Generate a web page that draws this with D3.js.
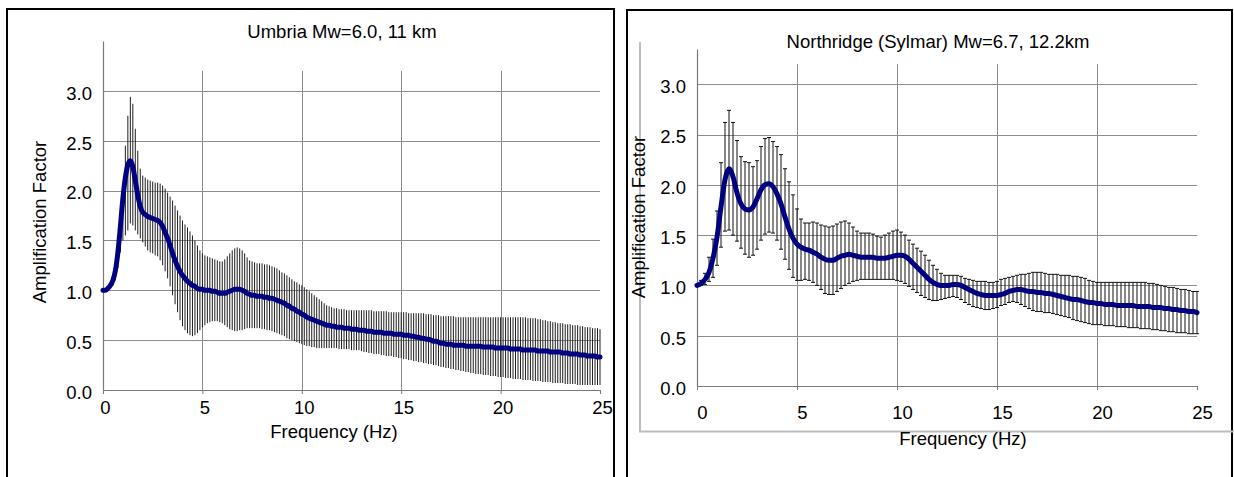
<!DOCTYPE html>
<html>
<head>
<meta charset="utf-8">
<script src="https://cdn.jsdelivr.net/npm/d3@7"></script>
<style>
  body { margin: 0; background: #fff; }
  svg text { font-family: "Liberation Sans", Arial, sans-serif; }
</style>
</head>
<body>
<script>
// tick values shared by both panels
var xTicks = [0, 5, 10, 15, 20, 25];
var yTicks = [0, 0.5, 1.0, 1.5, 2.0, 2.5, 3.0];

// Umbria Mw=6.0, 11 km  (bars every 0.125 Hz)
var umbriaFreq = [
  0,0.125,0.25,0.375,0.5,0.625,0.75,0.875,
  1,1.125,1.25,1.375,1.5,1.625,1.75,1.875,
  2,2.125,2.25,2.375,2.5,2.625,2.75,2.875,
  3,3.125,3.25,3.375,3.5,3.625,3.75,3.875,
  4,4.125,4.25,4.375,4.5,4.625,4.75,4.875,
  5,5.125,5.25,5.375,5.5,5.625,5.75,5.875,
  6,6.125,6.25,6.375,6.5,6.625,6.75,6.875,
  7,7.125,7.25,7.375,7.5,7.625,7.75,7.875,
  8,8.125,8.25,8.375,8.5,8.625,8.75,8.875,
  9,9.125,9.25,9.375,9.5,9.625,9.75,9.875,
  10,10.125,10.25,10.375,10.5,10.625,10.75,10.875,
  11,11.125,11.25,11.375,11.5,11.625,11.75,11.875,
  12,12.125,12.25,12.375,12.5,12.625,12.75,12.875,
  13,13.125,13.25,13.375,13.5,13.625,13.75,13.875,
  14,14.125,14.25,14.375,14.5,14.625,14.75,14.875,
  15,15.125,15.25,15.375,15.5,15.625,15.75,15.875,
  16,16.125,16.25,16.375,16.5,16.625,16.75,16.875,
  17,17.125,17.25,17.375,17.5,17.625,17.75,17.875,
  18,18.125,18.25,18.375,18.5,18.625,18.75,18.875,
  19,19.125,19.25,19.375,19.5,19.625,19.75,19.875,
  20,20.125,20.25,20.375,20.5,20.625,20.75,20.875,
  21,21.125,21.25,21.375,21.5,21.625,21.75,21.875,
  22,22.125,22.25,22.375,22.5,22.625,22.75,22.875,
  23,23.125,23.25,23.375,23.5,23.625,23.75,23.875,
  24,24.125,24.25,24.375,24.5,24.625,24.75,24.875,
  25];
var umbriaMean = [
  1.00,1.00,1.02,1.05,1.10,1.20,1.38,1.64,
  1.92,2.13,2.26,2.30,2.24,2.10,1.95,1.84,
  1.78,1.76,1.74,1.73,1.72,1.71,1.70,1.68,
  1.64,1.58,1.52,1.45,1.37,1.30,1.24,1.19,
  1.15,1.12,1.09,1.07,1.05,1.04,1.02,1.01,
  1.01,1.00,1.00,1.00,0.99,0.99,0.98,0.97,
  0.97,0.97,0.98,0.99,1.00,1.01,1.01,1.01,
  1.00,0.99,0.97,0.96,0.95,0.95,0.94,0.94,
  0.94,0.93,0.93,0.92,0.92,0.91,0.90,0.89,
  0.88,0.87,0.85,0.84,0.82,0.81,0.79,0.78,
  0.76,0.75,0.73,0.72,0.71,0.70,0.69,0.68,
  0.67,0.66,0.65,0.65,0.64,0.64,0.63,0.63,
  0.63,0.62,0.62,0.62,0.61,0.61,0.61,0.60,
  0.60,0.60,0.59,0.59,0.59,0.58,0.58,0.58,
  0.58,0.57,0.57,0.57,0.57,0.56,0.56,0.56,
  0.56,0.55,0.55,0.55,0.54,0.54,0.53,0.53,
  0.52,0.52,0.51,0.51,0.50,0.49,0.49,0.48,
  0.47,0.47,0.46,0.46,0.46,0.45,0.45,0.45,
  0.45,0.45,0.44,0.44,0.44,0.44,0.44,0.44,
  0.44,0.43,0.43,0.43,0.43,0.43,0.42,0.42,
  0.42,0.42,0.42,0.42,0.41,0.41,0.41,0.41,
  0.41,0.40,0.40,0.40,0.40,0.40,0.40,0.39,
  0.39,0.39,0.39,0.39,0.38,0.38,0.38,0.38,
  0.38,0.37,0.37,0.37,0.36,0.36,0.36,0.36,
  0.35,0.35,0.35,0.34,0.34,0.34,0.34,0.33,
  0.33];
var umbriaUpper = [
  1.00,1.01,1.03,1.07,1.13,1.25,1.45,1.75,
  2.05,2.45,2.75,2.94,2.87,2.62,2.40,2.22,
  2.15,2.13,2.11,2.10,2.09,2.08,2.08,2.07,
  2.05,2.02,1.98,1.94,1.90,1.85,1.80,1.75,
  1.70,1.66,1.63,1.59,1.55,1.50,1.45,1.40,
  1.37,1.35,1.34,1.33,1.32,1.31,1.30,1.29,
  1.29,1.31,1.34,1.37,1.40,1.42,1.43,1.42,
  1.40,1.37,1.33,1.30,1.29,1.28,1.27,1.27,
  1.27,1.26,1.26,1.25,1.24,1.23,1.22,1.20,
  1.18,1.17,1.15,1.13,1.11,1.09,1.08,1.06,
  1.05,1.03,1.01,0.99,0.97,0.95,0.93,0.91,
  0.89,0.87,0.85,0.84,0.83,0.82,0.82,0.81,
  0.81,0.81,0.80,0.80,0.80,0.80,0.80,0.80,
  0.80,0.80,0.80,0.80,0.80,0.79,0.79,0.79,
  0.79,0.79,0.79,0.78,0.78,0.78,0.78,0.78,
  0.78,0.78,0.78,0.77,0.77,0.77,0.77,0.77,
  0.77,0.77,0.76,0.76,0.76,0.75,0.75,0.75,
  0.74,0.74,0.74,0.74,0.74,0.74,0.73,0.73,
  0.73,0.73,0.73,0.73,0.73,0.73,0.73,0.73,
  0.73,0.73,0.73,0.73,0.73,0.73,0.73,0.73,
  0.73,0.73,0.73,0.73,0.73,0.73,0.73,0.73,
  0.73,0.73,0.73,0.72,0.72,0.72,0.72,0.71,
  0.71,0.70,0.70,0.69,0.69,0.68,0.68,0.67,
  0.67,0.67,0.66,0.66,0.66,0.65,0.65,0.65,
  0.64,0.64,0.63,0.63,0.63,0.62,0.62,0.62,
  0.61];
var umbriaLower = [
  1.00,0.99,1.00,1.02,1.05,1.10,1.22,1.38,
  1.50,1.55,1.60,1.67,1.65,1.60,1.56,1.52,
  1.48,1.44,1.40,1.38,1.37,1.35,1.34,1.30,
  1.25,1.19,1.12,1.04,0.95,0.86,0.78,0.70,
  0.64,0.60,0.57,0.55,0.54,0.55,0.57,0.60,
  0.63,0.65,0.67,0.68,0.69,0.69,0.69,0.68,
  0.67,0.65,0.63,0.61,0.60,0.59,0.59,0.60,
  0.60,0.61,0.62,0.62,0.62,0.62,0.62,0.62,
  0.61,0.61,0.60,0.60,0.59,0.58,0.57,0.56,
  0.55,0.54,0.52,0.51,0.50,0.49,0.48,0.47,
  0.46,0.45,0.44,0.44,0.43,0.43,0.42,0.42,
  0.42,0.42,0.42,0.42,0.42,0.42,0.42,0.41,
  0.41,0.41,0.41,0.41,0.40,0.40,0.40,0.40,
  0.39,0.38,0.38,0.37,0.37,0.36,0.36,0.36,
  0.35,0.35,0.34,0.34,0.34,0.33,0.33,0.32,
  0.32,0.31,0.31,0.30,0.30,0.29,0.29,0.28,
  0.28,0.27,0.27,0.26,0.26,0.25,0.25,0.24,
  0.23,0.23,0.22,0.22,0.21,0.21,0.20,0.20,
  0.19,0.19,0.18,0.18,0.17,0.17,0.16,0.16,
  0.16,0.15,0.15,0.15,0.14,0.14,0.14,0.13,
  0.13,0.13,0.12,0.12,0.12,0.11,0.11,0.11,
  0.11,0.10,0.10,0.10,0.10,0.09,0.09,0.09,
  0.09,0.08,0.08,0.08,0.08,0.07,0.07,0.07,
  0.07,0.07,0.06,0.06,0.06,0.06,0.06,0.05,
  0.05,0.05,0.05,0.05,0.05,0.05,0.05,0.05,
  0.05];

// Northridge (Sylmar) Mw=6.7, 12.2km  (bars every 0.2 Hz)
var sylmarFreq = [
  0,0.2,0.4,0.6,0.8, 1,1.2,1.4,1.6,1.8, 2,2.2,2.4,2.6,2.8,
  3,3.2,3.4,3.6,3.8, 4,4.2,4.4,4.6,4.8, 5,5.2,5.4,5.6,5.8,
  6,6.2,6.4,6.6,6.8, 7,7.2,7.4,7.6,7.8, 8,8.2,8.4,8.6,8.8,
  9,9.2,9.4,9.6,9.8, 10,10.2,10.4,10.6,10.8, 11,11.2,11.4,11.6,11.8,
  12,12.2,12.4,12.6,12.8, 13,13.2,13.4,13.6,13.8, 14,14.2,14.4,14.6,14.8,
  15,15.2,15.4,15.6,15.8, 16,16.2,16.4,16.6,16.8, 17,17.2,17.4,17.6,17.8,
  18,18.2,18.4,18.6,18.8, 19,19.2,19.4,19.6,19.8, 20,20.2,20.4,20.6,20.8,
  21,21.2,21.4,21.6,21.8, 22,22.2,22.4,22.6,22.8, 23,23.2,23.4,23.6,23.8,
  24,24.2,24.4,24.6,24.8, 25];
var sylmarMean = [
  1.00,1.02,1.06,1.13,1.27, 1.48,1.78,2.05,2.16,2.08, 1.92,1.81,1.76,1.75,1.78,
  1.86,1.95,2.00,2.01,1.98, 1.91,1.81,1.68,1.56,1.47, 1.41,1.38,1.36,1.35,1.33,
  1.31,1.28,1.26,1.25,1.25, 1.27,1.29,1.30,1.31,1.30, 1.29,1.28,1.28,1.28,1.28,
  1.27,1.27,1.27,1.28,1.29, 1.30,1.30,1.29,1.26,1.22, 1.18,1.14,1.10,1.06,1.03,
  1.01,1.00,1.00,1.00,1.01, 1.01,1.00,0.98,0.96,0.94, 0.92,0.91,0.90,0.90,0.90,
  0.90,0.91,0.92,0.94,0.95, 0.96,0.96,0.95,0.94,0.94, 0.93,0.93,0.92,0.92,0.91,
  0.90,0.89,0.88,0.87,0.86, 0.86,0.85,0.84,0.83,0.83, 0.82,0.82,0.81,0.81,0.81,
  0.80,0.80,0.80,0.80,0.80, 0.79,0.79,0.79,0.79,0.78, 0.78,0.78,0.77,0.77,0.76,
  0.76,0.75,0.75,0.74,0.74, 0.73];
var sylmarUpper = [
  1.00,1.05,1.12,1.28,1.46, 1.74,2.22,2.62,2.74,2.62, 2.44,2.28,2.23,2.22,2.18,
  2.24,2.38,2.46,2.47,2.43, 2.38,2.30,2.16,2.03,1.90, 1.76,1.66,1.62,1.62,1.63,
  1.62,1.60,1.59,1.58,1.59, 1.61,1.63,1.64,1.62,1.58, 1.54,1.52,1.52,1.52,1.51,
  1.49,1.48,1.50,1.52,1.54, 1.55,1.53,1.50,1.45,1.41, 1.37,1.34,1.30,1.25,1.20,
  1.16,1.12,1.10,1.10,1.10, 1.10,1.09,1.07,1.06,1.05, 1.04,1.04,1.04,1.03,1.03,
  1.04,1.06,1.07,1.08,1.09, 1.10,1.11,1.11,1.12,1.13, 1.13,1.13,1.12,1.11,1.11,
  1.11,1.10,1.10,1.10,1.09, 1.09,1.08,1.07,1.05,1.04, 1.03,1.03,1.03,1.03,1.03,
  1.03,1.03,1.03,1.03,1.03, 1.03,1.03,1.03,1.02,1.02, 1.01,1.00,0.99,0.98,0.98,
  0.97,0.96,0.96,0.95,0.94, 0.94];
var sylmarLower = [
  1.00,1.00,1.01,1.04,1.08, 1.20,1.38,1.54,1.55,1.50, 1.44,1.37,1.31,1.28,1.30,
  1.36,1.45,1.51,1.53,1.52, 1.45,1.36,1.26,1.16,1.08, 1.05,1.05,1.06,1.05,1.03,
  1.00,0.96,0.92,0.91,0.91, 0.94,0.97,1.00,1.02,1.04, 1.05,1.06,1.06,1.06,1.06,
  1.06,1.06,1.06,1.06,1.06, 1.05,1.04,1.02,0.99,0.96, 0.93,0.90,0.88,0.86,0.85,
  0.85,0.86,0.87,0.88,0.89, 0.88,0.86,0.83,0.81,0.79, 0.78,0.77,0.76,0.76,0.77,
  0.78,0.80,0.81,0.83,0.84, 0.83,0.81,0.79,0.77,0.75, 0.74,0.74,0.73,0.73,0.72,
  0.71,0.70,0.69,0.68,0.66, 0.65,0.64,0.63,0.62,0.61, 0.61,0.61,0.60,0.60,0.60,
  0.59,0.59,0.59,0.58,0.58, 0.58,0.57,0.57,0.57,0.56, 0.56,0.55,0.55,0.54,0.54,
  0.53,0.53,0.53,0.52,0.52, 0.52];

var FONT = 18.5;
var svg = d3.select("body").append("svg")
    .attr("width", 1234)
    .attr("height", 477);

// outer frames of the two pasted charts
svg.append("path").attr("d", "M7,477V9H614V477")
    .attr("fill", "none").attr("stroke", "#000").attr("stroke-width", 2);
svg.append("path").attr("d", "M627,477V10H1232V477")
    .attr("fill", "none").attr("stroke", "#000").attr("stroke-width", 2);
// light grey plot-area border of the right chart
svg.append("path").attr("d", "M640,42V431.5H1234")
    .attr("fill", "none").attr("stroke", "#bdbdbd").attr("stroke-width", 2);

function drawPanel(p) {
    var x = d3.scaleLinear().domain([0, 25]).range(p.xRange);
    var y = d3.scaleLinear().domain([0, p.yTop]).range(p.yRange);
    var g = svg.append("g");
    var data = p.freq.map(function(f, i) {
        return {f: f, m: p.mean[i], hi: p.upper[i], lo: p.lower[i]};
    });

    // gridlines
    g.selectAll(".hgrid").data(yTicks.slice(1)).enter().append("line")
        .attr("x1", x(0)).attr("x2", x(25))
        .attr("y1", function(d) { return Math.round(y(d)) + 0.5; })
        .attr("y2", function(d) { return Math.round(y(d)) + 0.5; })
        .attr("stroke", "#8c8c8c");
    g.selectAll(".vgrid").data(xTicks.slice(1, -1)).enter().append("line")
        .attr("x1", function(d) { return Math.round(x(d)) + 0.5; })
        .attr("x2", function(d) { return Math.round(x(d)) + 0.5; })
        .attr("y1", y(p.gridTop)).attr("y2", y(0))
        .attr("stroke", "#8c8c8c");

    // error bars
    g.selectAll(".bar").data(data).enter().append("line")
        .attr("x1", function(d) { return x(d.f); })
        .attr("x2", function(d) { return x(d.f); })
        .attr("y1", function(d) { return y(d.hi); })
        .attr("y2", function(d) { return y(d.lo); })
        .attr("stroke", p.barColor)
        .attr("stroke-width", 1);
    if (p.caps) {
        ["hi", "lo"].forEach(function(k) {
            g.selectAll(".cap-" + k).data(data).enter().append("line")
                .attr("x1", function(d) { return x(d.f) - 2; })
                .attr("x2", function(d) { return x(d.f) + 2; })
                .attr("y1", function(d) { return y(d[k]); })
                .attr("y2", function(d) { return y(d[k]); })
                .attr("stroke", p.barColor)
                .attr("stroke-width", 1);
        });
    }

    // axes
    var xAxis = g.append("g")
        .attr("transform", "translate(0," + y(0) + ")")
        .call(d3.axisBottom(x).tickValues(xTicks).tickSize(4).tickSizeOuter(0).tickPadding(p.xPad));
    var yAxis = g.append("g")
        .attr("transform", "translate(" + x(0) + ",0)")
        .call(d3.axisLeft(y).tickValues(yTicks).tickFormat(d3.format(".1f")).tickSize(0).tickSizeOuter(0).tickPadding(11));
    [xAxis, yAxis].forEach(function(a) {
        a.attr("font-family", null).attr("font-size", FONT).attr("color", "#000");
        a.select(".domain").attr("stroke", "#7a7a7a").attr("stroke-width", 1.2);
        a.selectAll(".tick line").attr("stroke", "#7a7a7a");
    });
    xAxis.selectAll("text").attr("dx", p.xLabelDx);
    yAxis.selectAll("text").attr("dy", "0.45em");

    // mean curve
    g.append("path").datum(data)
        .attr("fill", "none")
        .attr("stroke", "#000080")
        .attr("stroke-width", 5)
        .attr("stroke-linejoin", "round")
        .attr("stroke-linecap", "round")
        .attr("d", d3.line().curve(d3.curveMonotoneX)
            .x(function(d) { return x(d.f); })
            .y(function(d) { return y(d.m); }));

    // titles
    g.append("text").attr("x", p.title[1]).attr("y", p.title[2])
        .attr("text-anchor", "middle").attr("font-size", FONT).text(p.title[0]);
    g.append("text").attr("x", p.xLabel[0]).attr("y", p.xLabel[1])
        .attr("text-anchor", "middle").attr("font-size", FONT).text("Frequency (Hz)");
    g.append("text")
        .attr("transform", "translate(" + p.yLabel[0] + "," + p.yLabel[1] + ") rotate(-90)")
        .attr("text-anchor", "middle").attr("font-size", FONT).text("Amplification Factor");
}

drawPanel({
    freq: umbriaFreq, mean: umbriaMean, upper: umbriaUpper, lower: umbriaLower,
    xRange: [103, 600], yTop: 3.5, yRange: [390, 41], gridTop: 3.2,
    xPad: 7, xLabelDx: 2, caps: false, barColor: "#1e1e1e",
    title: ["Umbria Mw=6.0, 11 km", 342, 38],
    xLabel: [334, 438], yLabel: [46, 222]
});
drawPanel({
    freq: sylmarFreq, mean: sylmarMean, upper: sylmarUpper, lower: sylmarLower,
    xRange: [697, 1197], yTop: 3.35, yRange: [386, 49], gridTop: 3.2,
    xPad: 16, xLabelDx: 5, caps: true, barColor: "#111",
    title: ["Northridge (Sylmar) Mw=6.7, 12.2km", 938, 48],
    xLabel: [963, 445], yLabel: [645, 217]
});
</script>
</body>
</html>
